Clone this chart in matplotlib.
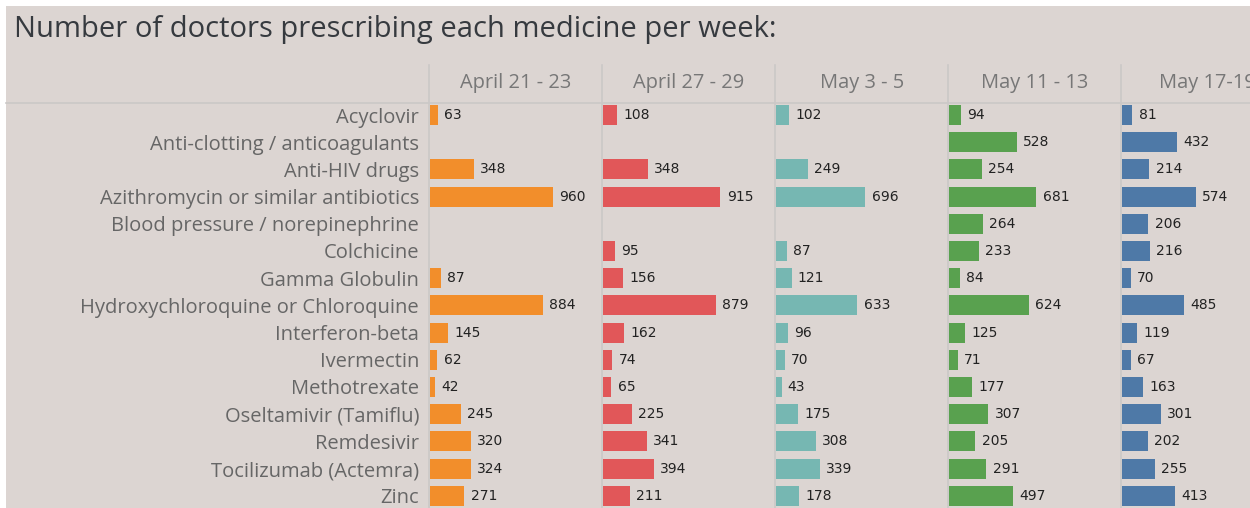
import matplotlib
matplotlib.use("Agg")
import matplotlib.pyplot as plt
from matplotlib.patches import Rectangle

W, H = 1250, 508

medicines = [
    "Acyclovir",
    "Anti-clotting / anticoagulants",
    "Anti-HIV drugs",
    "Azithromycin or similar antibiotics",
    "Blood pressure / norepinephrine",
    "Colchicine",
    "Gamma Globulin",
    "Hydroxychloroquine or Chloroquine",
    "Interferon-beta",
    "Ivermectin",
    "Methotrexate",
    "Oseltamivir (Tamiflu)",
    "Remdesivir",
    "Tocilizumab (Actemra)",
    "Zinc",
]
weeks = ["April 21 - 23", "April 27 - 29", "May 3 - 5", "May 11 - 13", "May 17-19"]

apr21 = [63, None, 348, 960, None, None, 87, 884, 145, 62, 42, 245, 320, 324, 271]
apr27 = [108, None, 348, 915, None, 95, 156, 879, 162, 74, 65, 225, 341, 394, 211]
may3 = [102, None, 249, 696, None, 87, 121, 633, 96, 70, 43, 175, 308, 339, 178]
may11 = [94, 528, 254, 681, 264, 233, 84, 624, 125, 71, 177, 307, 205, 291, 497]
may17 = [81, 432, 214, 574, 206, 216, 70, 485, 119, 67, 163, 301, 202, 255, 413]

series = [apr21, apr27, may3, may11, may17]
colors = ["#f28e2b", "#e15759", "#76b7b2", "#59a14f", "#4e79a7"]

BG = "#dcd5d2"
GRID = "#cbc8c7"

fig = plt.figure(figsize=(W / 100, H / 100), dpi=100)
fig.patch.set_facecolor("white")
fig.patches.append(Rectangle((6 / W, 0), 1, 1 - 6 / H, transform=fig.transFigure,
                             facecolor=BG, edgecolor="none", zorder=-10))

fig.text(14 / W, 1 - 30 / H, "Number of doctors prescribing each medicine per week:",
         fontsize=21, family="Open Sans", color="#363a3f", va="center", ha="left")

# header separator line
fig.add_artist(plt.Line2D([6 / W, 1], [1 - 103 / H, 1 - 103 / H], transform=fig.transFigure,
                          color=GRID, lw=1.2))

col_left = [428.5, 602, 775, 948, 1121]
col_w = 173.3
row0, step = 115, 27.2
top, bottom = 103, 508
ylo = (top - row0) / step
yhi = (bottom - row0) / step

for k, (vals, color, week) in enumerate(zip(series, colors, weeks)):
    x0 = col_left[k]
    fig.add_artist(plt.Line2D([x0 / W, x0 / W], [0, 1 - 65 / H], transform=fig.transFigure,
                              color=GRID, lw=1.2))
    fig.text((x0 + col_w / 2) / W, 1 - 83 / H, week, fontsize=14.4, family="Open Sans",
             color="#777777", ha="center", va="center")

    ax = fig.add_axes([(x0 + 1) / W, 0, col_w / W, (bottom - top) / H])
    ax.patch.set_visible(False)
    ax.set_xlim(0, 1350)
    ax.set_ylim(yhi, ylo)
    for sp in ax.spines.values():
        sp.set_visible(False)
    ax.set_xticks([])
    ys = [i for i, v in enumerate(vals) if v is not None]
    xs = [v for v in vals if v is not None]
    ax.barh(ys, xs, height=0.74, color=color, edgecolor="none")
    for y, v in zip(ys, xs):
        ax.annotate(str(v), (v, y), xytext=(4.5, 0), textcoords="offset points",
                    va="center", ha="left", fontsize=10, color="#222222")
    if k == 0:
        ax.set_yticks(range(len(medicines)))
        ax.set_yticklabels(medicines, fontsize=14.5, family="Open Sans", color="#666666")
        ax.tick_params(axis="y", length=0, pad=7.5)
    else:
        ax.set_yticks([])

fig.savefig("out.png", dpi=100, facecolor="white")
